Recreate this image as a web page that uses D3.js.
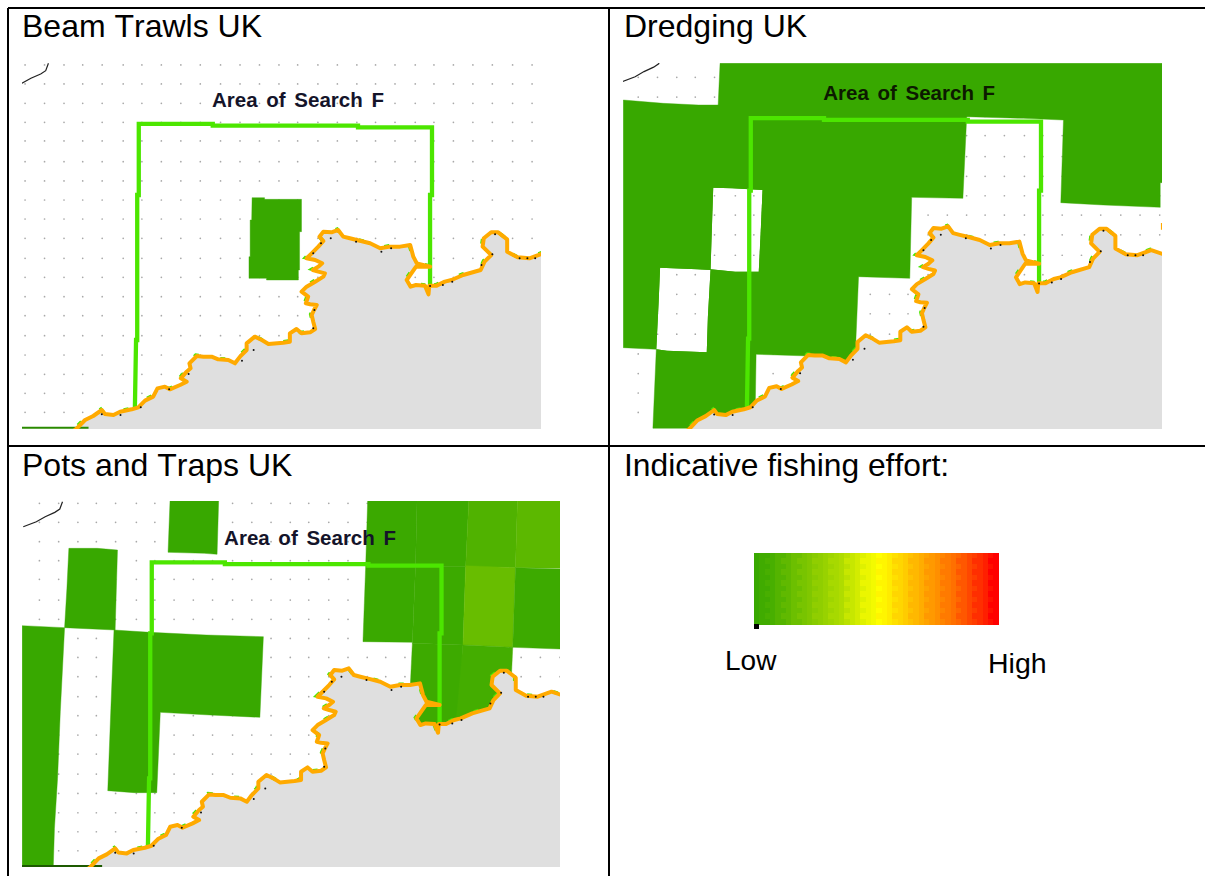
<!DOCTYPE html>
<html><head><meta charset="utf-8">
<style>html,body{margin:0;padding:0;background:#fff;overflow:hidden}svg{display:block}text{font-family:"Liberation Sans",Arial,sans-serif;font-kerning:none}</style>
<script src="https://cdn.jsdelivr.net/npm/d3@7/dist/d3.min.js"></script>
</head><body><svg id="c" width="1205" height="876"></svg>
<script>
// ---------- data (map units are a common map grid shared by all three panels) ----------
const panelTitles = ["Beam Trawls UK", "Dredging UK", "Pots and Traps UK"];
const legendTitle = "Indicative fishing effort:";
const legendLabels = ["Low", "High"];
const searchLabel = "Area of Search F";
const coast = [[150,1330],[198,1285],[219,1260],[240,1248],[262,1230],[270,1242],[292,1245],[309,1235],[339,1228],[356,1222],[373,1202],[394,1190],[405,1165],[424,1160],[437,1168],[463,1155],[480,1145],[465,1135],[480,1115],[490,1105],[487,1090],[506,1068],[523,1070],[544,1070],[561,1078],[587,1080],[604,1090],[617,1070],[634,1050],[634,1030],[655,1010],[673,1020],[690,1032],[728,1028],[745,1025],[745,1000],[762,987],[775,1000],[797,997],[810,987],[805,965],[801,945],[807,930],[814,915],[797,913],[786,910],[792,890],[775,875],[788,860],[810,845],[831,830],[835,820],[818,815],[804,810],[818,800],[828,790],[810,780],[788,775],[801,760],[818,740],[831,723],[821,710],[831,695],[852,697],[869,690],[882,710],[899,715],[917,720],[951,730],[977,745],[1002,740],[1028,740],[1054,735],[1062,770],[1071,790],[1105,800],[1069,800],[1045,840],[1055,860],[1069,855],[1092,857],[1101,883],[1103,857],[1122,857],[1143,845],[1160,840],[1190,825],[1235,810],[1245,785],[1262,765],[1240,740],[1243,715],[1262,697],[1280,697],[1303,718],[1303,755],[1330,772],[1360,775],[1396,760],[1425,771],[1470,771]];
const coastIslet = [[1425,680],[1425,700]];
const coastSpecks = [[262,1243],[310,1245],[362,1222],[435,1168],[485,1122],[622,1082],[652,1050],[805,985],[808,930],[850,715],[825,730],[805,760],[915,725],[980,755],[1005,745],[1105,858],[1138,855],[1162,845],[1237,795],[1265,763],[1272,703],[1335,775],[1355,775],[1375,775]];
const landCorners = [[1520,771],[1520,1500],[100,1500]];
const farShore = [[23,265],[57,250],[80,235],[105,222],[118,212],[125,190]];
const searchBox = [[347,1225],[350,1020],[353,1020],[353,585],[357,585],[357,372],[547,372],[547,377],[920,377],[920,382],[1110,382],[1110,585],[1105,585],[1105,860]];
const sliver = [[-80,1283],[228,1283]];
const gridXs = [65,115,165,213,263,317,365,415,465,515,567,617,667,717,765,817,867,917,965,1015,1067,1115,1165,1215,1265,1317,1367,1418];
const gridYs = [195,252,310,367,423,485,543,600,657,715,775,832,890,947,1007,1065,1123,1180,1237];
const searchAnchor = [545,320];

// effort patches: [effort level, polygon in the panel's own survey units]
const beamPatches = [[0,[[648,593],[680,593],[680,598],[775,598],[775,695],[770,695],[770,810],[767,810],[767,840],[685,840],[685,835],[640,835],[640,770],[643,770],[643,660],[647,660]]]];
const dredgePatches = [
 [0,[[290,190],[1455,190],[1455,548],[1450,548],[1450,622],[1300,615],[1188,608],[1195,360],[1090,355],[990,352],[940,350],[930,595],[795,592],[790,835],[655,830],[648,1020],[648,1100],[560,1100],[525,1068],[385,1063],[382,1285],[113,1285],[122,1048],[35,1043],[35,300],[140,310],[233,315],[285,315]]]
];
const dredgeHoles = [
 [[272,563],[322,565],[402,570],[397,700],[392,815],[330,815],[265,808],[268,700]],
 [[132,803],[230,808],[265,810],[258,950],[255,1057],[150,1052],[122,1048],[128,910]]
];
const potsPatches = [
 [0,[[437,168],[562,168],[558,328],[525,325],[432,322]]],
 [0,[[177,310],[250,310],[302,315],[296,555],[166,548],[172,430]]],
 [0,[[57,542],[166,548],[155,800],[148,1000],[140,1150],[137,1265],[57,1265]]],
 [0,[[293,555],[385,562],[530,570],[677,575],[668,817],[540,810],[412,802],[403,1043],[345,1043],[277,1037],[285,790]]],
 [0.008,[[945,168],[1072,168],[1068,365],[940,362]]],
 [0.012,[[1072,168],[1205,168],[1197,365],[1068,365]]],
 [0.06,[[1205,168],[1330,168],[1325,368],[1197,365]]],
 [0.09,[[1330,168],[1440,168],[1440,370],[1325,368]]],
 [0.004,[[940,362],[1068,365],[1060,592],[933,590]]],
 [0.01,[[1068,365],[1197,365],[1190,600],[1060,595]]],
 [0.12,[[1197,362],[1325,368],[1318,607],[1190,600]]],
 [0.012,[[1325,368],[1440,372],[1440,612],[1318,607]]],
 [0.012,[[1060,595],[1190,600],[1180,860],[1050,860],[1055,715]]],
 [0.03,[[1190,600],[1318,607],[1312,760],[1170,860]]]
];
const legendLevels = [0,0.02,0.02,0.04,0.07,0.07,0.1,0.13,0.13,0.16,0.18,0.2,0.22,0.24,0.26,0.28,0.3,0.33,0.36,0.39,0.42,0.45,0.47,0.5,0.52,0.54,0.56,0.58,0.6,0.62,0.64,0.66,0.68,0.7,0.72,0.74,0.76,0.78,0.8,0.83,0.86,0.88,0.91,0.94,0.97,1];
const legendRows = [0,1,2,3,4,5,6,7,8,9,10,11,12];

// ---------- scales ----------
const effort = d3.scaleLinear().domain([0,0.5,1]).range(["#38a800","#ffff00","#ff0000"]);
const panels = [
 {plot:[22,63,541,429], mx:d3.scaleLinear([355,1110],[138,432]),   my:d3.scaleLinear([370,1230],[123.3,410]),
  sx:d3.scaleLinear([0,1568],[0,610]),   sy:d3.scaleLinear([0,1335],[0,445]),   title:[22,37],  patches:beamPatches, holes:[], labelFill:"#14142a", sliver:"#2a8a00"},
 {plot:[623,63,1162,429], mx:d3.scaleLinear([355,1110],[750,1041]), my:d3.scaleLinear([370,1230],[117.5,410]),
  sx:d3.scaleLinear([0,1568],[610,1205]), sy:d3.scaleLinear([0,1335],[0,445]),   title:[624,37], patches:dredgePatches, holes:dredgeHoles, labelFill:"#0c1a00", sliver:"none"},
 {plot:[22,501,560,867], mx:d3.scaleLinear([355,1110],[151,441.5]), my:d3.scaleLinear([370,1230],[561.7,848.4]),
  sx:d3.scaleLinear([0,1568],[0,610]),   sy:d3.scaleLinear([0,1293],[445,876]), title:[22,476], patches:potsPatches, holes:[], labelFill:"#14142a", sliver:"#1d5a00"}
];

// ---------- draw ----------
const svg = d3.select("#c");
const defs = svg.append("defs");

function drawDots(sel,p){
  sel.append("g").attr("fill","#a8a8a8").selectAll("g").data(gridYs).join("g")
   .selectAll("circle").data(y=>gridXs.map(x=>[x,y])).join("circle")
   .attr("cx",d=>p.mx(d[0])).attr("cy",d=>p.my(d[1])).attr("r",0.85);
}

panels.forEach((p,i) => {
  const [x0,y0,x1,y1] = p.plot;
  defs.append("clipPath").attr("id","clip"+i).append("rect").attr("x",x0).attr("y",y0).attr("width",x1-x0).attr("height",y1-y0);
  const g = svg.append("g").attr("clip-path",`url(#clip${i})`);
  const mapLine = d3.line().x(d=>p.mx(d[0])).y(d=>p.my(d[1]));
  const surveyPath = pts => "M"+pts.map(d=>[p.sx(d[0]),p.sy(d[1])].join(",")).join("L")+"Z";

  drawDots(g,p);

  g.append("g").selectAll("path").data(p.patches).join("path")
   .attr("d",d=>surveyPath(d[1])).attr("fill",d=>effort(d[0])).attr("stroke",d=>effort(d[0])).attr("stroke-width",0.4);
  p.holes.forEach((h,k)=>{
    const id=`hole${i}_${k}`;
    defs.append("clipPath").attr("id",id).append("path").attr("d",surveyPath(h));
    const hg=g.append("g").attr("clip-path",`url(#${id})`);
    hg.append("path").attr("d",surveyPath(h)).attr("fill","#fff");
    drawDots(hg,p);
  });

  g.append("path").attr("d",mapLine(coast.concat(landCorners))+"Z").attr("fill","#dfdfdf");
  g.append("path").attr("d",mapLine(farShore)).attr("fill","none").attr("stroke","#222").attr("stroke-width",1.2);
  g.append("path").attr("d",mapLine(sliver)).attr("fill","none").attr("stroke",p.sliver).attr("stroke-width",2);
  g.append("path").attr("d",mapLine(searchBox)).attr("fill","none").attr("stroke","#4ce600").attr("stroke-width",4.3).attr("stroke-linejoin","miter");
  g.append("path").attr("d",mapLine(coast)).attr("transform","translate(-1,-0.8)").attr("fill","none").attr("stroke","#4ce600").attr("stroke-width",3.6).attr("stroke-dasharray","5 22");
  g.append("path").attr("d",mapLine(coast)).attr("fill","none").attr("stroke","#ffaa00").attr("stroke-width",4).attr("stroke-linejoin","round");
  g.append("path").attr("d",mapLine(coastIslet)).attr("fill","none").attr("stroke","#ffaa00").attr("stroke-width",3);
  g.append("g").attr("fill","#111").selectAll("circle").data(coastSpecks).join("circle")
   .attr("cx",d=>p.mx(d[0])).attr("cy",d=>p.my(d[1])).attr("r",1);

  g.append("text").attr("x",p.mx(searchAnchor[0])).attr("y",p.my(searchAnchor[1]))
   .attr("font-size",20.5).attr("font-weight","bold").attr("fill",p.labelFill)
   .attr("word-spacing",3).text(searchLabel);

  svg.append("text").attr("x",p.title[0]).attr("y",p.title[1]).attr("font-size",32).attr("fill","#000").text(panelTitles[i]);
});

svg.append("text").attr("x",624).attr("y",476).attr("font-size",31.8).attr("fill","#000").text(legendTitle);
const lx = d3.scaleBand().domain(d3.range(legendLevels.length)).range([754,998.5]);
const ly = d3.scaleBand().domain(legendRows).range([553,624]);
svg.append("g").attr("shape-rendering","crispEdges").selectAll("g").data(legendRows).join("g").selectAll("rect")
 .data(r=>legendLevels.map((v,c)=>({r,c,v:(r%2===1&&c%3===2&&c<legendLevels.length-1)?legendLevels[c+1]:v})))
 .join("rect").attr("x",d=>lx(d.c)).attr("y",d=>ly(d.r)).attr("width",lx.bandwidth()+0.5).attr("height",ly.bandwidth()+0.5)
 .attr("fill",d=>effort(d.v));
svg.append("rect").attr("x",754).attr("y",624).attr("width",5).attr("height",5).attr("fill","#000");
svg.append("text").attr("x",725).attr("y",670).attr("font-size",28).text(legendLabels[0]);
svg.append("text").attr("x",988).attr("y",673).attr("font-size",28.5).text(legendLabels[1]);

const rules = [[8,8,1205,8],[8,446,1205,446],[8,8,8,876],[609,8,609,876]];
svg.append("g").selectAll("line").data(rules).join("line")
 .attr("x1",d=>d[0]).attr("y1",d=>d[1]).attr("x2",d=>d[2]).attr("y2",d=>d[3])
 .attr("stroke","#000").attr("stroke-width",2);
</script></body></html>
